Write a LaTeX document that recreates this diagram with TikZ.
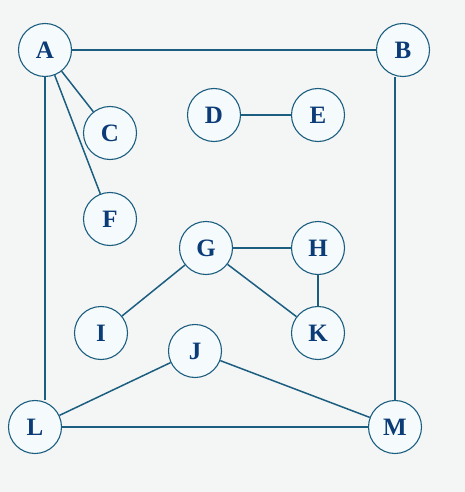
\documentclass[tikz,border=0pt]{standalone}
\usepackage{fontspec}
\setmainfont{Liberation Serif}
\definecolor{bgc}{HTML}{F4F5F5}
\definecolor{linec}{HTML}{1B5E80}
\definecolor{txtc}{HTML}{0B3C78}
\definecolor{fillc}{HTML}{F5FBFD}
\begin{document}
\begin{tikzpicture}[x=1pt,y=-1pt,
  vert/.style={circle,draw=linec,line width=1.1pt,fill=fillc,minimum size=53pt,inner sep=0pt,
    font=\fontsize{25}{25}\selectfont\bfseries,text=txtc},
  edge/.style={draw=linec,line width=1.5pt}]
\fill[bgc] (0,0) rectangle (465,492);
\useasboundingbox (0,0) rectangle (465,492);
\node[vert] (A) at (45,50) {A};
\node[vert] (B) at (403,50) {B};
\node[vert] (C) at (110,133) {C};
\node[vert] (D) at (214,115) {D};
\node[vert] (E) at (318,115) {E};
\node[vert] (F) at (110,219) {F};
\node[vert] (G) at (206,248) {G};
\node[vert] (H) at (318,248) {H};
\node[vert] (I) at (101,333) {I};
\node[vert] (K) at (318,333) {K};
\node[vert] (J) at (195,351) {J};
\node[vert] (L) at (35,427) {L};
\node[vert] (M) at (395,427) {M};
\draw[edge] (A) -- (B);
\draw[edge] (A) -- (C);
\draw[edge] (A) -- (F);
\draw[edge] (A.south) -- (A |- L.north);
\draw[edge] (M.north) -- (M.north |- B.south);
\draw[edge] (D) -- (E);
\draw[edge] (G) -- (H);
\draw[edge] (G) -- (I);
\draw[edge] (G) -- (K);
\draw[edge] (H) -- (K);
\draw[edge] (J) -- (L);
\draw[edge] (J) -- (M);
\draw[edge] (L) -- (M);
\end{tikzpicture}
\end{document}
